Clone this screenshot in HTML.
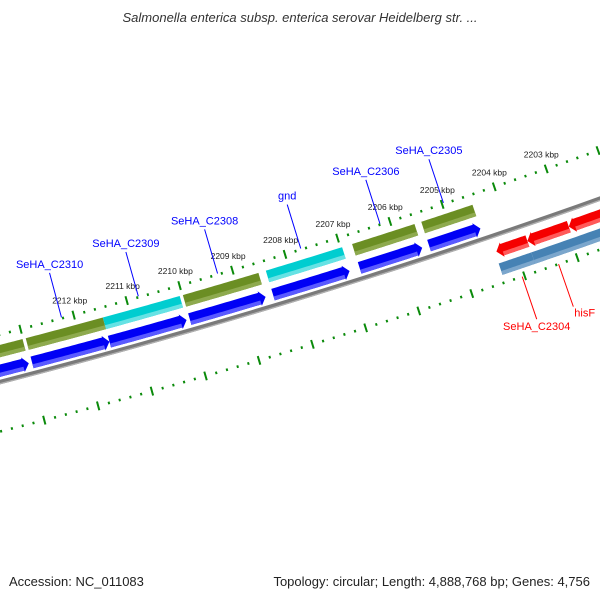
<!DOCTYPE html>
<html><head><meta charset="utf-8"><style>
html,body{margin:0;padding:0;background:#fff;}
svg{display:block;font-family:"Liberation Sans",sans-serif;}
</style></head><body>
<svg id="map" width="600" height="600" viewBox="0 0 600 600" xmlns="http://www.w3.org/2000/svg">
<rect width="600" height="600" fill="#fff"/>
<text x="300" y="22" text-anchor="middle" font-size="13" font-style="italic" fill="#333">Salmonella enterica subsp. enterica serovar Heidelberg str. ...</text>
<g id="layers"></g>
<text x="9" y="586" font-size="13" fill="#222">Accession: NC_011083</text>
<text x="590" y="586" text-anchor="end" font-size="13" fill="#222">Topology: circular; Length: 4,888,768 bp; Genes: 4,756</text>
</svg>
<script>
// data (kbp)
const fwdStarts = [2213.8, 2212.95, 2211.50, 2209.99, 2208.42, 2206.78, 2205.46];
const fwdEnds   = [2213.01, 2211.50, 2210.05, 2208.56, 2206.97, 2205.59, 2204.48];
const fwdCog    = ['olive','olive','cyan','olive','cyan','olive','olive'];
const fwdNames  = ['', 'SeHA_C2310','SeHA_C2309','SeHA_C2308','gnd','SeHA_C2306','SeHA_C2305'];
const revStarts = [2204.34, 2203.75, 2202.96];
const revEnds   = [2203.75, 2202.96, 2201.9];
const revNames  = ['SeHA_C2304', 'hisF', ''];
const cogStarts = [2204.37, 2203.75];
const cogEnds   = [2203.75, 2201.9];
const tickLabels = [2203,2204,2205,2206,2207,2208,2209,2210,2211,2212];
const tickMin = 2201.6, tickMax = 2214.2;

const CX=-1691, CY=-6225, RB=6820;
const A0=74.90, APK=0.465;
const colors={olive:['#6b8e23','#8eaa4e'],cyan:['#00cdd0','#66e2e4'],blue:['#0000f5','#5a5aff'],red:['#f50000','#ff5a5a'],steel:['#4682b4','#7ba6cc']};
const NS='http://www.w3.org/2000/svg';
const G=document.getElementById('layers');
function ang(p){return (A0+APK*(p-2212))*Math.PI/180;}
function pt(p,r){const a=ang(p);return [CX+r*Math.cos(a),CY+r*Math.sin(a)];}
function arcPts(p1,p2,r){const n=24,out=[];for(let i=0;i<=n;i++){out.push(pt(p1+(p2-p1)*i/n,r));}return out;}
function mk(tag,attrs){const e=document.createElementNS(NS,tag);for(const k in attrs)e.setAttribute(k,attrs[k]);G.appendChild(e);return e;}
function poly(pts){return pts.map(q=>q[0].toFixed(2)+','+q[1].toFixed(2)).join(' ');}
// feature: band from p1..p2, radius r, thickness t; head: 0 none, +1 tip at p2, -1 tip at p1
function feature(p1,p2,r,t,col,head,name){
  const H=0.11;
  let b1=p1,b2=p2;
  if(head===1) b2=p2+(p1>p2?H:-H);
  if(head===-1) b1=p1+(p2>p1?H:-H);
  const ri=r-t/2, ro=r+t/2;
  let pts=arcPts(b1,b2,ri);
  if(head===1){pts.push(pt(b2,ri-1.5));pts.push(pt(p2,r));pts.push(pt(b2,ro+1.5));}
  pts=pts.concat(arcPts(b2,b1,ro));
  if(head===-1){pts.push(pt(b1,ro+1.5));pts.push(pt(p1,r));pts.push(pt(b1,ri-1.5));}
  const e=mk('polygon',{points:poly(pts),fill:col[0]});
  
  
  // lighter outer strip
  const s1=head===1?b2:p2, s0=head===-1?b1:p1;
  const sp=arcPts(s0,s1,ro-4).concat(arcPts(s1,s0,ro));
  const s=mk('polygon',{points:poly(sp),fill:col[1]});
  
  
}
function ticks(r,name){
  const base=mk('g',{});
  for(let k=Math.round(tickMin*5);k<=tickMax*5;k++){
    const p=k/5, major=(k%5===0);
    const L=major?4.5:1.3;
    const a=pt(p,r-L),b=pt(p,r+L);
    const l=mk('line',{x1:a[0],y1:a[1],x2:b[0],y2:b[1],stroke:'#0a8a0a','stroke-width':2});
    
    
  }
}
// backbone
const bb=arcPts(2214.5,2201.0,RB);
const bl=mk('polyline',{points:poly(bb),fill:'none',stroke:'#7a7a7a','stroke-width':4.5});


const bl2=mk('polyline',{points:poly(arcPts(2214.5,2201.0,RB+1.6)),fill:'none',stroke:'#b0b0b0','stroke-width':1.3});


// tick rings
ticks(RB-46,'outer-ring');
ticks(RB+48,'inner-ring');
// tick labels
tickLabels.forEach(v=>{
  const q=pt(v,RB-61);
  const t=mk('text',{x:q[0].toFixed(1),y:(q[1]+3).toFixed(1),'text-anchor':'middle','font-size':'8.5',fill:'#222'});
  t.textContent=v+' kbp';
  
  
});
// forward genes
for(let i=0;i<fwdStarts.length;i++){
  feature(fwdStarts[i],fwdEnds[i],RB-30,12,colors[fwdCog[i]],0,'cog-'+(fwdNames[i]||'gene'));
  feature(fwdStarts[i],fwdEnds[i],RB-11,12,colors.blue,1,'gene-'+(fwdNames[i]||'gene'));
  if(fwdNames[i]){
    const m=(fwdStarts[i]+fwdEnds[i])/2;
    const a=pt(m,RB-47),b=pt(m,RB-93);
    const l=mk('line',{x1:a[0],y1:a[1],x2:b[0],y2:b[1],stroke:'#0000ff','stroke-width':1});
    
    
    const t=mk('text',{x:b[0].toFixed(1),y:(b[1]-5).toFixed(1),'text-anchor':'middle','font-size':'11',fill:'#0000ff'});
    t.textContent=fwdNames[i];
    
    
  }
}
// reverse genes
for(let i=0;i<revStarts.length;i++){
  feature(revStarts[i],revEnds[i],RB+16,12,colors.red,-1,'gene-'+(revNames[i]||'rev-gene'));
  if(revNames[i]){
    const m=(revStarts[i]+revEnds[i])/2;
    const a=pt(m,RB+48),b=pt(m,RB+93);
    const l=mk('line',{x1:a[0],y1:a[1],x2:b[0],y2:b[1],stroke:'#ff0000','stroke-width':1});
    
    
    const first=i===0;
    const t=mk('text',{x:(b[0]+(first?0:1)).toFixed(1),y:(b[1]+(first?11:10)).toFixed(1),'text-anchor':first?'middle':'start','font-size':'11',fill:'#ff0000'});
    t.textContent=revNames[i];
    
    
  }
}
for(let i=0;i<cogStarts.length;i++){
  feature(cogStarts[i],cogEnds[i],RB+34,12,colors.steel,0,'cog-reverse');
}
</script>
</body></html>
